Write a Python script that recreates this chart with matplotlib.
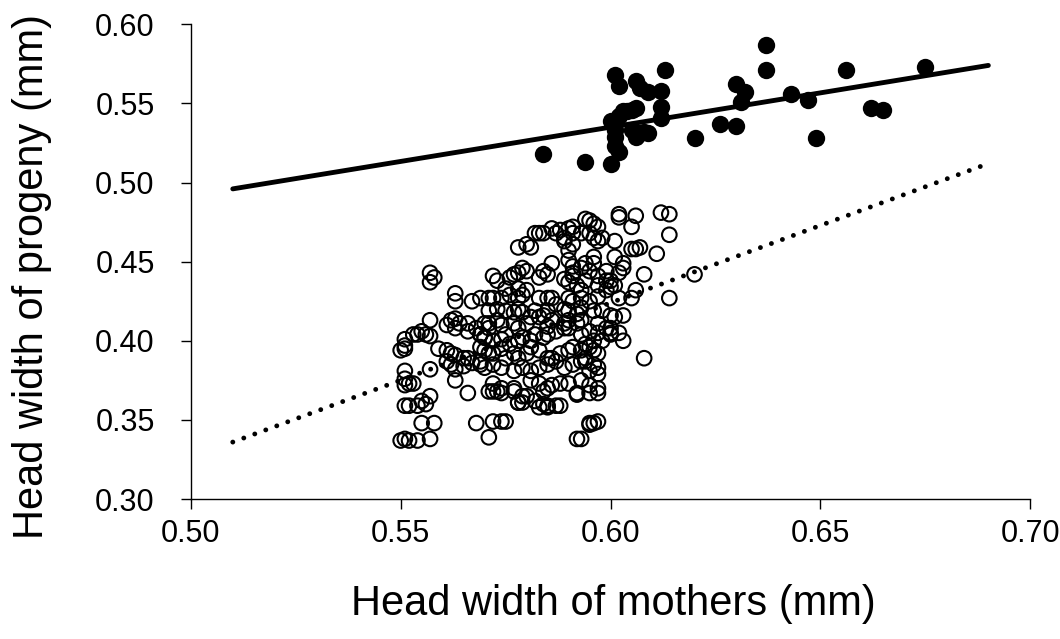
import matplotlib
matplotlib.use("Agg")
import matplotlib.pyplot as plt

plt.rcParams["font.family"] = ["Liberation Sans", "DejaVu Sans"]

# filled circles (upper group)
fill_x = [0.601, 0.602, 0.606, 0.607, 0.609, 0.613, 0.612, 0.612, 0.612, 0.606,
          0.604, 0.602, 0.600, 0.601, 0.601, 0.601, 0.602, 0.606, 0.609, 0.605,
          0.594, 0.600, 0.620, 0.626, 0.630, 0.630, 0.632, 0.631, 0.637, 0.637,
          0.656, 0.675, 0.643, 0.647, 0.662, 0.665, 0.649, 0.584, 0.603, 0.605,
          0.607, 0.608]
fill_y = [0.568, 0.561, 0.564, 0.560, 0.557, 0.571, 0.558, 0.548, 0.541, 0.547,
          0.545, 0.542, 0.539, 0.533, 0.529, 0.523, 0.519, 0.529, 0.531, 0.533,
          0.513, 0.512, 0.528, 0.537, 0.536, 0.562, 0.557, 0.551, 0.587, 0.571,
          0.571, 0.573, 0.556, 0.552, 0.547, 0.546, 0.528, 0.518, 0.545, 0.546,
          0.531, 0.532]

# open circles (lower group)
open_x = [
    # top right scatter
    0.602, 0.602, 0.606, 0.605, 0.612, 0.614, 0.614, 0.595, 0.596, 0.597,
    0.594, 0.601, 0.605, 0.607, 0.611, 0.597, 0.596, 0.603, 0.603, 0.608,
    0.620, 0.614, 0.606, 0.605, 0.602, 0.603, 0.600, 0.600, 0.602, 0.603,
    0.608, 0.595, 0.597, 0.597, 0.595, 0.595, 0.596, 0.593,
    # top middle
    0.583, 0.584, 0.588, 0.591, 0.593, 0.581, 0.590, 0.589, 0.586, 0.579,
    0.580, 0.578, 0.577, 0.576, 0.572, 0.573, 0.584, 0.585, 0.583, 0.589,
    0.591, 0.593, 0.594, 0.586, 0.587, 0.589, 0.590, 0.591, 0.591, 0.595,
    0.598, 0.606, 0.602, 0.580, 0.578, 0.582,
    # top left
    0.557, 0.558, 0.557, 0.563, 0.563, 0.567, 0.569, 0.571, 0.572, 0.574,
    0.576, 0.578, 0.579, 0.583, 0.585, 0.586, 0.578, 0.590, 0.591, 0.593,
    0.593, 0.592, 0.575, 0.578, 0.580, 0.583,
    # middle left
    0.557, 0.555, 0.553, 0.551, 0.551, 0.556, 0.557, 0.561, 0.562, 0.563,
    0.564, 0.563, 0.566, 0.566, 0.568, 0.569, 0.571, 0.570, 0.559, 0.561,
    0.562, 0.563, 0.565, 0.566, 0.567, 0.561, 0.562, 0.563, 0.565, 0.569,
    0.571, 0.557, 0.551, 0.551, 0.552, 0.553, 0.551, 0.563, 0.566, 0.571,
    0.557, 0.555, 0.556, 0.554, 0.552, 0.551, 0.555, 0.558, 0.568, 0.572,
    0.574, 0.575, 0.550, 0.551, 0.552, 0.554, 0.557, 0.571, 0.550, 0.551,
    0.554,
    # middle rows
    0.570, 0.571, 0.573, 0.574, 0.577, 0.578, 0.580,
    0.569, 0.570, 0.572, 0.574, 0.575, 0.576, 0.578, 0.579, 0.581, 0.582,
    0.584, 0.585, 0.587, 0.589, 0.590, 0.592, 0.593,
    0.569, 0.570, 0.572, 0.574, 0.575, 0.577, 0.578, 0.580, 0.581, 0.583,
    0.585, 0.586, 0.588, 0.590, 0.591, 0.593, 0.594,
    0.569, 0.570, 0.572, 0.574, 0.577, 0.579, 0.581, 0.583, 0.585, 0.587,
    0.589, 0.591, 0.593, 0.594,
    0.572, 0.573, 0.574, 0.577, 0.583, 0.584, 0.585, 0.586, 0.588, 0.590,
    0.592,
    0.582, 0.583, 0.584, 0.585, 0.587, 0.578,
    0.581, 0.580, 0.579, 0.585, 0.588, 0.592, 0.595, 0.597, 0.592,
    0.572, 0.574, 0.577, 0.578, 0.579,
    # upper-middle dense
    0.590, 0.591, 0.591, 0.590, 0.594, 0.595, 0.596, 0.596, 0.597, 0.597,
    0.595, 0.596, 0.597, 0.599, 0.599, 0.593, 0.592, 0.590, 0.589, 0.587,
    0.585, 0.584, 0.582, 0.581, 0.579, 0.577, 0.575, 0.573, 0.571, 0.590,
    0.589, 0.586, 0.585, 0.593, 0.595, 0.596,
    # right column of the cloud
    0.601, 0.600, 0.601, 0.599, 0.600, 0.598, 0.600, 0.601, 0.597, 0.599,
    0.600, 0.597, 0.598, 0.595, 0.596, 0.597, 0.594, 0.596, 0.597, 0.595,
    0.597, 0.593,
]
open_y = [
    # top right scatter
    0.480, 0.478, 0.479, 0.472, 0.481, 0.480, 0.467, 0.476, 0.474, 0.472,
    0.477, 0.463, 0.458, 0.459, 0.455, 0.463, 0.465, 0.449, 0.446, 0.442,
    0.442, 0.427, 0.432, 0.427, 0.427, 0.416, 0.405, 0.404, 0.405, 0.400,
    0.389, 0.372, 0.370, 0.367, 0.367, 0.348, 0.348, 0.338,
    # top middle
    0.468, 0.468, 0.470, 0.472, 0.468, 0.459, 0.457, 0.463, 0.449, 0.446,
    0.444, 0.443, 0.442, 0.440, 0.441, 0.438, 0.444, 0.442, 0.440, 0.439,
    0.441, 0.446, 0.449, 0.471, 0.468, 0.465, 0.471, 0.468, 0.461, 0.468,
    0.465, 0.458, 0.443, 0.461, 0.459, 0.468,
    # top left
    0.443, 0.440, 0.437, 0.430, 0.425, 0.425, 0.427, 0.427, 0.427, 0.427,
    0.429, 0.427, 0.429, 0.427, 0.427, 0.427, 0.420, 0.427, 0.425, 0.427,
    0.432, 0.435, 0.433, 0.433, 0.432, 0.415,
    # middle left
    0.413, 0.406, 0.404, 0.401, 0.395, 0.404, 0.403, 0.410, 0.413, 0.414,
    0.411, 0.408, 0.411, 0.406, 0.408, 0.404, 0.408, 0.402, 0.395, 0.394,
    0.392, 0.391, 0.389, 0.389, 0.386, 0.387, 0.385, 0.382, 0.384, 0.387,
    0.392, 0.382, 0.381, 0.376, 0.373, 0.373, 0.372, 0.375, 0.367, 0.368,
    0.365, 0.362, 0.360, 0.359, 0.359, 0.359, 0.348, 0.348, 0.348, 0.349,
    0.349, 0.349, 0.337, 0.338, 0.337, 0.337, 0.338, 0.339, 0.394, 0.397,
    0.404,
    # middle rows
    0.411, 0.411, 0.413, 0.410, 0.411, 0.408, 0.411,
    0.404, 0.402, 0.400, 0.401, 0.404, 0.398, 0.400, 0.402, 0.400, 0.404,
    0.402, 0.404, 0.406, 0.408, 0.408, 0.411, 0.413,
    0.396, 0.394, 0.392, 0.395, 0.389, 0.392, 0.389, 0.392, 0.396, 0.394,
    0.389, 0.389, 0.392, 0.394, 0.396, 0.394, 0.398,
    0.385, 0.383, 0.385, 0.383, 0.381, 0.383, 0.381, 0.383, 0.385, 0.387,
    0.383, 0.385, 0.387, 0.389,
    0.373, 0.368, 0.370, 0.368, 0.373, 0.368, 0.370, 0.372, 0.373, 0.373,
    0.367,
    0.362, 0.358, 0.360, 0.358, 0.359, 0.361,
    0.375, 0.365, 0.361, 0.359, 0.359, 0.366, 0.347, 0.349, 0.338,
    0.368, 0.367, 0.370, 0.361, 0.365,
    # upper-middle dense
    0.451, 0.447, 0.443, 0.437, 0.438, 0.444, 0.449, 0.453, 0.441, 0.435,
    0.425, 0.419, 0.428, 0.444, 0.438, 0.421, 0.417, 0.419, 0.420, 0.423,
    0.419, 0.416, 0.419, 0.415, 0.418, 0.418, 0.419, 0.420, 0.419, 0.413,
    0.411, 0.413, 0.409, 0.404, 0.406, 0.400,
    # right column of the cloud
    0.453, 0.438, 0.435, 0.432, 0.434, 0.419, 0.416, 0.415, 0.411, 0.408,
    0.408, 0.405, 0.400, 0.396, 0.394, 0.392, 0.387, 0.385, 0.383, 0.381,
    0.379, 0.375,
]

# fitted lines (end points)
line_x = [0.51, 0.69]
solid_y = [0.496, 0.574]
dotted_y = [0.336, 0.512]

fig = plt.figure(figsize=(10.6, 6.39), dpi=100)
ax = fig.add_axes([0.180, 0.219, 0.792, 0.743])

ax.scatter(open_x, open_y, s=10.5**2, facecolors="none", edgecolors="black",
           linewidths=1.5, zorder=2)
ax.scatter(fill_x, fill_y, s=12.5**2, color="black", linewidths=0, zorder=3)
ax.plot(line_x, solid_y, color="black", lw=3.5, solid_capstyle="round", zorder=4)
ax.plot(line_x, dotted_y, color="black", lw=3.5, linestyle=(0, (0.01, 2.4)),
        dash_capstyle="round", zorder=4)

ax.set_xlim(0.50, 0.70)
ax.set_ylim(0.30, 0.60)
ax.set_xticks([0.50, 0.55, 0.60, 0.65, 0.70])
ax.set_yticks([0.30, 0.35, 0.40, 0.45, 0.50, 0.55, 0.60])
ax.xaxis.set_major_formatter(matplotlib.ticker.FormatStrFormatter("%.2f"))
ax.yaxis.set_major_formatter(matplotlib.ticker.FormatStrFormatter("%.2f"))
ax.spines["top"].set_visible(False)
ax.spines["right"].set_visible(False)
for sp in ["left", "bottom"]:
    ax.spines[sp].set_linewidth(1.0)
ax.tick_params(direction="out", length=7, width=1.0, labelsize=22)
ax.tick_params(axis="x", pad=7)
ax.tick_params(axis="y", pad=19)
ax.set_xlabel("Head width of mothers (mm)", fontsize=30)
ax.set_ylabel("Head width of progeny (mm)", fontsize=30)
ax.xaxis.set_label_coords(0.503, -0.178)
ax.yaxis.set_label_coords(-0.165, 0.468)

fig.savefig("out.png", dpi=100)
